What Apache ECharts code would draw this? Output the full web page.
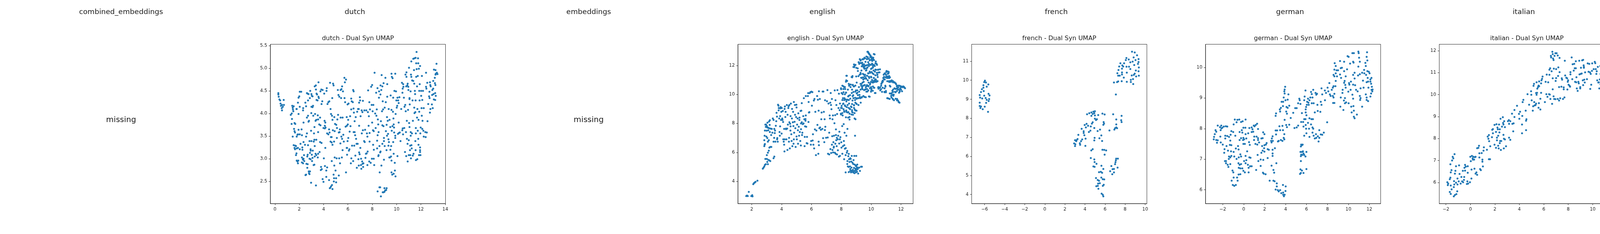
<!DOCTYPE html>
<html lang="en">

<head>
    <meta charset="UTF-8">
    <title>Dual Syn UMAP</title>
    <style>
        * {
            padding: 0;
            margin: 0;
        }

        body {
            background: #fff;
        }
    </style>
</head>

<body>
    <div id="chart" style="width: 7800px; height: 600px;"></div>
    <script src="https://cdn.jsdelivr.net/npm/echarts@6/dist/echarts.min.js"></script>
    <script>
        // panel order, left to right
        const panelNames = ['combined_embeddings', 'dutch', 'embeddings', 'english', 'french', 'german', 'italian',
            'plots', 'portuguese', 'russian', 'spanish', 'svg', 'tables']
        const missingPanels = ['combined_embeddings', 'embeddings', 'plots', 'svg', 'tables']

        // axis ranges and ticks
        const dutchXRange = [-0.38, 14.02], dutchYRange = [2.01, 5.53]
        const dutchXTicks = [0, 2, 4, 6, 8, 10, 12, 14], dutchYTicks = [2.5, 3.0, 3.5, 4.0, 4.5, 5.0, 5.5]
        const englishXRange = [1.07, 12.81], englishYRange = [2.47, 13.46]
        const englishXTicks = [2, 4, 6, 8, 10, 12], englishYTicks = [4, 6, 8, 10, 12]
        const frenchXRange = [-7.29, 10.17], frenchYRange = [3.52, 11.89]
        const frenchXTicks = [-6, -4, -2, 0, 2, 4, 6, 8, 10], frenchYTicks = [4, 5, 6, 7, 8, 9, 10, 11]
        const germanXRange = [-3.65, 13.08], germanYRange = [5.55, 10.76]
        const germanXTicks = [-2, 0, 2, 4, 6, 8, 10, 12], germanYTicks = [6, 7, 8, 9, 10]
        const italianXRange = [-2.55, 11.78], italianYRange = [5.04, 12.29]
        const italianXTicks = [-2, 0, 2, 4, 6, 8, 10], italianYTicks = [6, 7, 8, 9, 10, 11, 12]
        const portugueseXRange = [-4.27, 12.28], portugueseYRange = [4.84, 9.19]
        const portugueseXTicks = [-4, -2, 0, 2, 4, 6, 8, 10, 12], portugueseYTicks = [5.0, 5.5, 6.0, 6.5, 7.0, 7.5, 8.0, 8.5, 9.0]
        const russianXRange = [-3.70, 16.62], russianYRange = [4.19, 8.57]
        const russianXTicks = [-2.5, 0, 2.5, 5, 7.5, 10, 12.5, 15], russianYTicks = [4.5, 5.0, 5.5, 6.0, 6.5, 7.0, 7.5, 8.0, 8.5]
        const spanishXRange = [4.07, 9.97], spanishYRange = [2.58, 15.36]
        const spanishXTicks = [5, 6, 7, 8, 9], spanishYTicks = [4, 6, 8, 10, 12, 14]

        const dutchPts = [
            [0.28, 4.45], [0.28, 4.42], [0.31, 4.37], [0.37, 4.31], [0.43, 4.29], [0.46, 4.22], [0.49, 4.17], [0.58, 4.19], [0.56, 4.12], [0.65, 4.15], [0.58, 4.07], [0.72, 4.30], [0.74, 4.19],
            [1.30, 3.97], [1.38, 4.00], [1.42, 4.17], [1.48, 4.09], [1.51, 4.05], [1.46, 4.13], [1.54, 4.16], [1.40, 3.88], [1.37, 3.77], [1.46, 3.49], [1.57, 3.66], [1.61, 3.79], [1.67, 3.77], [1.61, 3.61], [1.65, 3.58],
            [1.54, 3.30], [1.61, 3.24], [1.67, 3.29], [1.73, 3.28], [1.65, 3.21], [1.79, 3.23], [1.77, 3.12], [1.73, 3.08], [1.79, 2.96], [1.85, 2.94], [1.89, 2.90], [1.92, 2.96], [1.89, 3.24], [1.77, 4.10], [1.79, 4.10],
            [1.89, 4.24], [1.94, 3.99], [1.94, 4.35], [2.00, 4.38], [2.04, 4.48], [2.04, 4.15], [1.94, 3.64], [1.89, 3.54], [1.79, 3.49], [1.85, 3.53], [2.04, 3.54], [2.04, 3.21], [2.10, 3.33], [2.16, 4.48], [2.19, 3.65],
            [2.22, 3.52], [2.25, 3.25], [2.26, 3.20], [2.22, 3.03], [2.22, 2.92], [2.29, 2.99], [2.31, 4.07], [2.32, 4.12], [2.35, 3.80], [2.35, 3.37], [2.35, 3.00], [2.32, 2.98], [2.31, 2.90], [2.39, 3.08], [2.41, 2.95],
            [2.47, 3.31], [2.50, 4.24], [2.51, 2.64], [2.56, 2.65], [2.56, 3.49], [2.56, 4.16], [2.59, 2.89], [2.63, 3.56], [2.63, 3.91], [2.63, 4.45], [2.66, 2.80], [2.66, 3.05], [2.68, 4.44], [2.69, 3.09], [2.69, 2.88],
            [2.72, 4.29], [2.72, 3.95], [2.72, 3.30], [2.76, 4.43], [2.76, 3.82], [2.78, 2.72], [2.80, 2.68], [2.80, 3.84], [2.84, 3.00], [2.84, 3.39], [2.84, 2.66], [2.87, 4.34], [2.88, 3.13], [2.88, 2.72], [2.90, 4.50],
            [2.93, 3.21], [2.93, 2.99], [2.94, 3.18], [2.97, 2.47], [2.97, 3.62], [2.99, 4.01], [3.00, 3.39], [3.00, 4.43], [3.00, 4.15], [3.03, 3.09], [3.03, 4.39], [3.05, 2.95], [3.09, 3.02], [3.09, 4.14], [3.09, 4.38],
            [3.11, 3.18], [3.13, 4.17], [3.15, 3.95], [3.18, 2.86], [3.19, 3.38], [3.21, 3.56], [3.24, 2.87], [3.24, 3.42], [3.25, 3.70], [3.27, 4.60], [3.27, 3.28], [3.27, 3.05], [3.30, 3.99], [3.34, 3.11], [3.34, 3.84],
            [3.36, 4.62], [3.37, 4.53], [3.37, 2.41], [3.40, 3.42], [3.40, 3.08], [3.40, 3.86], [3.42, 4.30], [3.42, 4.44], [3.46, 4.42], [3.50, 4.29], [3.52, 3.96], [3.52, 3.03], [3.55, 3.11], [3.55, 3.59], [3.55, 3.87],
            [3.58, 4.37], [3.58, 4.69], [3.61, 4.34], [3.64, 3.76], [3.67, 3.15], [3.71, 3.91], [3.71, 3.37], [3.74, 4.49], [3.74, 3.74], [3.77, 2.75], [3.79, 2.82], [3.81, 4.53], [3.83, 4.21], [3.83, 3.35], [3.85, 2.77],
            [3.89, 4.27], [3.92, 4.52], [3.92, 2.55], [3.99, 2.49], [3.99, 3.68], [4.02, 3.01], [4.05, 4.44], [4.08, 3.84], [4.10, 3.73], [4.10, 3.67], [4.11, 2.84], [4.14, 3.24], [4.14, 3.80], [4.16, 3.69], [4.22, 2.74],
            [4.22, 2.60], [4.24, 4.50], [4.26, 4.56], [4.29, 2.81], [4.29, 3.56], [4.32, 4.21], [4.39, 4.25], [4.39, 3.54], [4.45, 3.65], [4.45, 2.53], [4.47, 4.27], [4.49, 3.58], [4.51, 2.35], [4.53, 4.68], [4.55, 2.36],
            [4.57, 4.10], [4.57, 3.38], [4.60, 3.48], [4.61, 3.99], [4.61, 2.39], [4.66, 3.36], [4.66, 3.48], [4.67, 2.95], [4.69, 2.42], [4.69, 3.95], [4.71, 4.34], [4.73, 2.33], [4.73, 3.31], [4.73, 3.86], [4.76, 3.63],
            [4.78, 4.66], [4.82, 4.62], [4.82, 2.65], [4.84, 2.50], [4.86, 3.38], [4.86, 2.57], [4.88, 2.85], [4.88, 3.92], [4.91, 3.03], [4.91, 3.61], [4.94, 3.77], [4.98, 2.74], [5.03, 2.48], [5.03, 2.57], [5.04, 3.75],
            [5.07, 3.01], [5.09, 3.46], [5.10, 3.68], [5.13, 3.87], [5.17, 4.52], [5.19, 3.97], [5.22, 4.41], [5.25, 2.63], [5.25, 3.58], [5.28, 3.01], [5.29, 4.37], [5.31, 3.59], [5.34, 3.65], [5.35, 2.90], [5.38, 3.34],
            [5.40, 4.52], [5.40, 3.91], [5.44, 4.34], [5.46, 3.49], [5.47, 4.54], [5.50, 3.03], [5.52, 3.44], [5.52, 4.60], [5.56, 3.19], [5.56, 3.91], [5.59, 4.49], [5.62, 3.53], [5.66, 3.38], [5.71, 4.79], [5.72, 4.34],
            [5.75, 4.69], [5.77, 4.25], [5.81, 3.71], [5.84, 4.75], [5.84, 2.70], [5.90, 3.24], [5.90, 3.92], [5.91, 3.73], [5.93, 3.24], [5.93, 3.09], [5.97, 4.20], [5.97, 3.39], [5.99, 3.76], [6.02, 3.86], [6.03, 3.46],
            [6.05, 4.22], [6.08, 3.18], [6.12, 3.21], [6.14, 3.60], [6.18, 3.94], [6.21, 3.72], [6.24, 2.90], [6.27, 4.09], [6.27, 4.33], [6.28, 3.01], [6.31, 4.27], [6.34, 3.29], [6.40, 4.25], [6.43, 4.52], [6.43, 2.95],
            [6.46, 4.11], [6.47, 4.49], [6.47, 3.59], [6.49, 4.02], [6.52, 3.29], [6.55, 3.83], [6.55, 3.59], [6.59, 3.52], [6.61, 3.07], [6.64, 3.92], [6.67, 3.44], [6.71, 3.33], [6.73, 2.80], [6.76, 4.04], [6.80, 3.33],
            [6.83, 4.10], [6.86, 2.99], [6.89, 2.85], [6.89, 4.10], [6.92, 3.73], [6.92, 4.24], [6.92, 3.14], [6.96, 3.10], [6.98, 4.36], [7.00, 4.29], [7.02, 3.24], [7.04, 3.94], [7.07, 2.86], [7.08, 3.00], [7.10, 2.78],
            [7.13, 4.07], [7.14, 3.56], [7.17, 2.94], [7.19, 4.03], [7.20, 2.89], [7.23, 4.28], [7.23, 3.63], [7.25, 2.82], [7.27, 2.90], [7.33, 3.39], [7.35, 4.07], [7.38, 3.37], [7.41, 3.64], [7.44, 3.02], [7.48, 3.11],
            [7.51, 4.07], [7.54, 3.12], [7.56, 3.56], [7.60, 2.86], [7.60, 3.49], [7.62, 3.16], [7.64, 4.03], [7.66, 4.51], [7.70, 3.73], [7.72, 3.94], [7.75, 2.94], [7.76, 4.25], [7.78, 3.57], [7.78, 3.38], [7.81, 4.09],
            [7.87, 2.91], [7.91, 4.59], [7.95, 4.19], [7.97, 3.00], [7.99, 4.63], [7.99, 3.80], [8.03, 4.05], [8.06, 3.63], [8.07, 3.31], [8.09, 4.19], [8.12, 3.00], [8.12, 3.61], [8.13, 3.20], [8.16, 2.86], [8.19, 4.90],
            [8.24, 4.00], [8.28, 3.68], [8.32, 4.46], [8.34, 3.95], [8.37, 4.09], [8.40, 3.40], [8.40, 3.23], [8.43, 4.56], [8.44, 3.52], [8.44, 2.28], [8.46, 3.87], [8.49, 3.76], [8.50, 3.06], [8.52, 3.59], [8.52, 3.08],
            [8.55, 4.35], [8.56, 4.49], [8.59, 3.28], [8.59, 2.37], [8.61, 2.70], [8.65, 3.14], [8.65, 2.37], [8.67, 4.42], [8.68, 4.62], [8.68, 3.16], [8.71, 2.17], [8.71, 3.83], [8.74, 4.52], [8.75, 2.85], [8.77, 4.85],
            [8.80, 4.05], [8.83, 3.74], [8.83, 4.60], [8.83, 3.33], [8.86, 4.27], [8.86, 2.26], [8.89, 4.09], [8.92, 3.72], [8.93, 4.67], [8.93, 2.26], [8.96, 3.46], [8.96, 3.39], [8.96, 2.98], [9.00, 2.27], [9.00, 2.35],
            [9.02, 4.13], [9.02, 3.28], [9.06, 2.30], [9.08, 4.79], [9.11, 4.25], [9.12, 3.61], [9.14, 2.31], [9.17, 3.19], [9.18, 2.35], [9.18, 3.75], [9.21, 3.92], [9.21, 3.51], [9.23, 4.65], [9.23, 4.37], [9.27, 3.84],
            [9.30, 3.55], [9.33, 3.43], [9.33, 3.29], [9.35, 4.10], [9.37, 3.37], [9.40, 3.03], [9.42, 3.86], [9.45, 3.03], [9.48, 3.70], [9.49, 3.20], [9.51, 4.40], [9.54, 3.05], [9.55, 3.28], [9.58, 4.88], [9.58, 4.08],
            [9.58, 2.96], [9.58, 2.70], [9.60, 3.62], [9.61, 4.81], [9.64, 2.65], [9.66, 3.72], [9.67, 4.78], [9.70, 4.04], [9.72, 4.35], [9.72, 3.37], [9.74, 3.89], [9.76, 3.76], [9.76, 3.11], [9.76, 2.67], [9.79, 3.69],
            [9.80, 3.58], [9.82, 4.50], [9.85, 2.91], [9.86, 2.74], [9.89, 4.88], [9.89, 3.51], [9.89, 3.46], [9.91, 2.61], [9.92, 3.99], [9.95, 4.49], [9.98, 4.29], [10.01, 4.13], [10.05, 4.17], [10.07, 3.06], [10.07, 4.35],
            [10.11, 3.55], [10.13, 4.29], [10.17, 3.80], [10.17, 4.23], [10.19, 3.57], [10.23, 4.36], [10.26, 3.58], [10.32, 3.39], [10.38, 4.10], [10.44, 4.68], [10.47, 3.63], [10.48, 4.46], [10.50, 4.55], [10.50, 3.67],
            [10.53, 3.54], [10.54, 4.65], [10.56, 4.59], [10.60, 4.35], [10.63, 3.68], [10.65, 4.15], [10.69, 3.15], [10.71, 4.19], [10.73, 4.86], [10.75, 4.05], [10.77, 3.59], [10.79, 3.06], [10.79, 4.60], [10.81, 4.91],
            [10.81, 4.81], [10.84, 3.84], [10.85, 3.44], [10.88, 4.62], [10.90, 3.33], [10.91, 4.66], [10.91, 2.94], [10.94, 4.08], [10.96, 4.59], [10.97, 4.52], [11.00, 3.41], [11.00, 3.08], [11.02, 5.01], [11.03, 3.79],
            [11.06, 3.70], [11.06, 4.32], [11.06, 4.34], [11.08, 4.20], [11.10, 3.19], [11.12, 3.29], [11.12, 3.08], [11.15, 4.49], [11.16, 3.51], [11.16, 3.59], [11.18, 4.86], [11.18, 3.01], [11.21, 5.15], [11.21, 4.81],
            [11.22, 3.30], [11.24, 3.23], [11.26, 3.56], [11.28, 4.73], [11.31, 4.29], [11.33, 3.07], [11.34, 3.84], [11.37, 5.21], [11.37, 4.72], [11.39, 3.11], [11.43, 4.96], [11.45, 4.66], [11.45, 4.13], [11.47, 4.01],
            [11.47, 5.22], [11.50, 4.50], [11.52, 4.43], [11.54, 3.39], [11.54, 4.03], [11.56, 5.23], [11.56, 4.29], [11.56, 3.19], [11.58, 3.68], [11.58, 3.56], [11.59, 2.97], [11.61, 5.11], [11.61, 4.81], [11.64, 5.36],
            [11.65, 4.98], [11.68, 3.91], [11.68, 4.60], [11.70, 2.99], [11.71, 4.10], [11.74, 3.62], [11.74, 4.83], [11.76, 5.22], [11.78, 3.44], [11.78, 5.11], [11.80, 3.31], [11.80, 3.86], [11.83, 4.99], [11.84, 3.08],
            [11.86, 4.04], [11.86, 4.50], [11.89, 4.29], [11.90, 4.65], [11.93, 5.05], [11.93, 3.25], [11.93, 3.19], [11.93, 3.15], [11.95, 3.56], [11.96, 3.08], [11.98, 3.69], [12.02, 4.39], [12.02, 4.50], [12.05, 4.12],
            [12.07, 3.95], [12.08, 4.83], [12.11, 3.66], [12.11, 4.30], [12.13, 3.84], [12.17, 4.50], [12.20, 3.62], [12.23, 4.12], [12.23, 3.49], [12.36, 3.59], [12.39, 3.48], [12.42, 4.90], [12.42, 4.59], [12.45, 4.55],
            [12.48, 3.58], [12.52, 4.68], [12.54, 3.83], [12.60, 4.21], [12.67, 4.38], [12.70, 4.48], [12.71, 4.34], [12.74, 4.02], [12.74, 4.69], [12.77, 4.63], [12.78, 4.10], [12.80, 4.60], [12.90, 4.20], [12.92, 4.41],
            [12.94, 4.52], [12.97, 4.12], [13.01, 4.55], [13.01, 4.72], [13.03, 4.43], [13.06, 4.31], [13.07, 4.97], [13.14, 4.79], [13.15, 4.67], [13.17, 4.45], [13.17, 4.30], [13.19, 4.63], [13.20, 4.96], [13.20, 4.86],
            [13.22, 4.39], [13.22, 4.88], [13.28, 5.10], [13.31, 4.90], [13.36, 4.87]
        ]

        const englishPts = [
            [1.63, 2.99], [1.68, 3.02], [1.73, 2.99], [1.80, 3.28], [1.97, 2.99], [2.03, 3.05], [2.05, 2.97], [2.10, 3.81], [2.15, 3.88], [2.20, 3.92], [2.25, 3.97], [2.38, 4.05],
            [2.74, 4.88], [2.79, 4.95], [2.84, 5.03], [2.88, 5.14], [2.91, 5.55], [2.94, 5.19], [3.01, 5.55], [3.04, 5.34], [3.08, 5.19], [3.11, 5.48], [3.18, 5.45], [3.24, 5.40], [3.46, 5.60], [3.51, 5.71],
            [3.01, 5.81], [3.08, 5.98], [3.14, 6.12], [3.18, 6.33], [3.24, 6.38], [3.31, 6.38], [2.84, 6.43], [2.86, 6.53], [2.88, 6.58], [2.84, 6.84], [2.86, 7.15], [2.88, 7.51], [2.91, 7.92], [2.96, 7.92],
            [2.94, 7.76], [3.01, 7.82], [3.04, 7.72], [2.98, 7.09], [3.04, 6.99], [3.08, 6.74], [3.14, 6.84], [3.11, 7.53], [3.16, 8.13], [3.21, 8.22], [3.16, 7.67], [3.21, 7.41], [3.26, 7.64], [3.34, 7.62],
            [3.38, 7.36], [3.41, 8.34], [3.46, 8.24], [3.46, 6.74], [3.51, 7.62], [3.54, 7.33], [3.56, 7.51], [3.58, 6.74], [3.61, 7.84], [3.64, 8.15], [3.66, 8.73], [3.69, 8.47], [3.71, 6.99], [3.74, 6.74],
            [3.76, 9.29], [3.79, 9.22], [3.81, 9.06], [3.84, 8.34], [3.86, 7.41], [3.88, 7.15], [3.91, 9.04], [3.94, 9.12], [3.96, 8.24], [3.98, 8.80], [4.01, 9.06], [4.04, 8.34], [4.06, 8.24], [4.08, 8.86],
            [4.11, 6.90], [4.14, 6.74], [4.17, 7.62], [4.17, 6.53], [4.19, 6.07], [4.22, 9.17], [4.25, 8.44], [4.27, 8.80], [4.29, 7.64], [4.32, 6.90], [4.35, 9.27], [4.37, 7.64], [4.39, 6.17], [4.42, 7.92],
            [4.45, 9.06], [4.47, 9.19], [4.49, 6.74], [4.52, 8.08], [4.52, 9.27], [4.55, 6.28], [4.57, 7.98], [4.59, 7.51], [4.62, 9.37], [4.65, 7.25], [4.67, 6.79], [4.69, 8.34], [4.72, 6.43], [4.75, 8.08],
            [4.77, 8.80], [4.79, 7.82], [4.82, 9.48], [4.82, 6.90], [4.84, 7.36], [4.87, 8.11], [4.89, 9.27], [4.92, 7.67], [4.94, 6.38], [4.97, 8.44], [4.99, 9.29], [5.02, 6.90], [5.04, 7.92], [5.07, 8.34],
            [5.09, 7.53], [5.12, 8.70], [5.15, 7.77], [5.17, 7.15], [5.19, 8.24], [5.22, 7.41], [5.25, 6.79], [5.27, 8.86], [5.29, 6.48], [5.32, 8.88], [5.35, 9.40], [5.35, 8.08], [5.37, 7.20], [5.39, 7.36],
            [5.42, 7.95], [5.45, 8.50], [5.47, 8.00], [5.49, 9.74], [5.52, 8.29], [5.54, 6.43], [5.55, 7.07], [5.57, 7.80], [5.60, 8.19], [5.62, 8.55], [5.62, 9.89], [5.65, 7.77], [5.68, 6.64], [5.70, 7.07],
            [5.73, 6.61], [5.76, 9.89], [5.78, 10.09], [5.81, 9.48], [5.83, 8.75], [5.86, 8.78], [5.88, 10.09], [5.93, 10.16], [5.96, 6.53], [5.98, 6.79], [6.00, 10.19], [6.03, 9.22], [6.06, 10.16], [6.08, 6.82],
            [6.10, 7.25], [6.13, 6.53], [6.16, 9.58], [6.18, 6.28], [6.20, 9.69], [6.23, 7.59], [6.26, 8.80], [6.30, 5.81], [6.33, 7.51], [6.38, 9.89], [6.40, 7.90], [6.43, 9.63], [6.46, 5.91], [6.48, 8.88],
            [6.48, 6.74], [6.50, 10.22], [6.50, 6.50], [6.53, 7.67], [6.56, 9.69], [6.58, 7.72], [6.63, 7.56], [6.66, 8.29], [6.68, 8.75], [6.73, 7.62], [6.75, 10.20], [6.78, 6.98], [6.80, 10.20], [6.83, 8.80],
            [6.86, 6.71], [6.88, 8.29], [6.90, 7.54], [6.91, 9.60], [6.93, 7.77], [6.98, 7.01], [7.04, 9.53], [7.07, 10.30], [7.09, 7.03], [7.11, 5.91], [7.14, 9.37], [7.19, 7.36], [7.19, 5.86], [7.22, 8.55],
            [7.24, 8.34], [7.26, 9.43], [7.27, 6.23], [7.29, 10.10], [7.31, 9.27], [7.32, 5.96], [7.34, 8.98], [7.37, 9.69], [7.37, 6.53], [7.39, 7.12], [7.41, 8.29], [7.41, 6.17], [7.44, 8.55], [7.47, 6.71],
            [7.49, 6.33], [7.51, 7.15], [7.54, 8.01], [7.56, 10.28], [7.57, 5.98], [7.59, 8.57], [7.61, 9.60], [7.62, 5.91], [7.64, 7.20], [7.64, 7.59], [7.66, 6.84], [7.67, 9.27], [7.69, 6.43], [7.71, 5.86],
            [7.72, 8.65], [7.74, 10.30], [7.76, 6.90], [7.77, 6.15], [7.79, 7.15], [7.81, 9.06], [7.84, 5.71], [7.84, 10.05], [7.86, 6.61], [7.87, 7.43], [7.89, 8.91], [7.91, 9.37], [7.91, 5.76], [7.94, 7.05],
            [7.97, 8.67], [7.99, 10.36], [8.01, 6.33], [8.04, 9.06], [8.06, 7.82], [8.07, 5.91], [8.09, 8.55], [8.09, 10.02], [8.11, 6.43], [8.14, 9.37], [8.14, 10.56], [8.16, 7.95], [8.17, 6.79], [8.19, 5.53],
            [8.19, 8.86], [8.21, 9.74], [8.22, 7.36], [8.24, 10.51], [8.24, 6.26], [8.27, 9.19], [8.29, 5.81], [8.29, 4.62], [8.31, 8.42], [8.32, 10.12], [8.34, 8.80], [8.34, 7.15], [8.37, 11.29], [8.37, 5.98],
            [8.39, 10.93], [8.39, 9.63], [8.41, 5.40], [8.41, 7.62], [8.42, 9.27], [8.44, 10.33], [8.44, 5.03], [8.47, 5.74], [8.47, 8.78], [8.50, 4.64], [8.50, 9.91], [8.52, 9.37], [8.52, 5.53], [8.55, 10.66],
            [8.55, 5.34], [8.55, 8.44], [8.57, 9.01], [8.58, 5.03], [8.60, 4.72], [8.60, 9.71], [8.62, 10.51], [8.63, 5.55], [8.65, 9.17], [8.65, 4.62], [8.67, 5.37], [8.68, 4.95], [8.70, 5.76], [8.70, 10.10],
            [8.72, 8.80], [8.73, 11.18], [8.73, 4.67], [8.75, 5.29], [8.75, 9.58], [8.77, 10.66], [8.78, 4.80], [8.78, 8.60], [8.80, 4.62], [8.80, 9.94], [8.82, 5.47], [8.83, 10.56], [8.85, 4.93], [8.85, 9.27],
            [8.87, 5.76], [8.87, 11.88], [8.88, 4.57], [8.90, 8.96], [8.90, 5.16], [8.92, 4.72], [8.92, 7.15], [8.93, 9.77], [8.95, 4.88], [8.95, 12.04], [8.95, 8.29], [8.97, 5.06], [8.98, 4.62], [8.98, 10.28],
            [9.00, 5.76], [9.00, 9.37], [9.00, 11.24], [9.02, 8.88], [9.02, 4.80], [9.05, 4.98], [9.05, 4.67], [9.05, 9.74], [9.07, 5.16], [9.08, 10.12], [9.10, 4.85], [9.10, 11.80], [9.12, 4.93], [9.13, 4.54],
            [9.15, 9.27], [9.15, 11.26], [9.18, 10.51], [9.20, 4.95], [9.20, 12.11], [9.22, 9.97], [9.23, 11.36], [9.25, 4.72], [9.28, 9.74], [9.28, 12.17], [9.30, 12.37], [9.30, 9.43], [9.32, 5.01], [9.33, 11.15],
            [9.35, 10.72], [9.35, 11.65], [9.38, 5.01], [9.38, 9.82], [9.40, 12.19], [9.40, 10.51], [9.42, 10.36], [9.43, 11.96], [9.45, 12.42], [9.45, 11.42], [9.47, 11.03], [9.48, 9.89], [9.50, 11.88], [9.50, 10.87],
            [9.52, 12.08], [9.53, 10.30], [9.55, 12.53], [9.55, 11.77], [9.58, 11.24], [9.58, 10.64], [9.60, 11.98], [9.62, 12.25], [9.63, 10.36], [9.65, 11.65], [9.67, 11.08], [9.68, 12.01], [9.70, 11.80], [9.70, 10.56],
            [9.72, 12.45], [9.73, 11.29], [9.75, 10.20], [9.75, 11.86], [9.77, 10.98], [9.79, 12.94], [9.80, 12.22], [9.80, 11.46], [9.82, 12.87], [9.83, 10.56], [9.85, 11.96], [9.87, 11.13], [9.88, 12.78], [9.90, 9.84],
            [9.90, 12.35], [9.93, 11.49], [9.94, 10.77], [9.96, 12.68], [9.98, 12.04], [9.99, 10.51], [10.01, 10.30], [10.01, 11.18], [10.03, 12.58], [10.04, 11.80], [10.06, 12.42], [10.08, 10.84], [10.09, 11.46],
            [10.11, 12.06], [10.11, 10.25], [10.13, 10.92], [10.14, 12.53], [10.16, 11.65], [10.18, 11.13], [10.19, 12.37], [10.21, 10.46], [10.23, 12.76], [10.24, 11.96], [10.26, 10.87], [10.28, 11.32], [10.29, 10.10],
            [10.31, 12.27], [10.31, 11.03], [10.33, 11.70], [10.36, 12.11], [10.36, 10.87], [10.39, 12.04], [10.41, 11.34], [10.43, 10.92], [10.46, 11.70], [10.49, 10.51], [10.53, 10.41], [10.56, 11.52], [10.59, 11.73],
            [10.61, 10.28], [10.66, 10.36], [10.69, 10.74], [10.73, 10.18], [10.76, 10.84], [10.79, 10.92], [10.81, 11.13], [10.84, 11.36], [10.86, 11.21], [10.89, 10.18], [10.91, 11.03], [10.93, 11.44], [10.96, 10.54],
            [10.99, 10.15], [11.01, 11.54], [11.03, 11.24], [11.06, 11.13], [11.09, 9.74], [11.11, 11.42], [11.13, 11.57], [11.16, 11.24], [11.18, 11.54], [11.19, 10.92], [11.21, 11.13], [11.24, 9.69], [11.26, 11.18],
            [11.29, 10.54], [11.32, 10.87], [11.34, 10.05], [11.36, 9.79], [11.39, 10.92], [11.42, 10.25], [11.44, 9.71], [11.46, 10.84], [11.49, 9.91], [11.51, 9.99], [11.53, 9.60], [11.57, 10.84], [11.60, 10.18],
            [11.62, 10.38], [11.67, 10.71], [11.72, 10.56], [11.74, 9.69], [11.77, 10.36], [11.80, 9.58], [11.82, 10.49], [11.84, 9.50], [11.87, 10.12], [11.90, 9.43], [11.92, 10.20], [11.94, 10.38], [11.97, 10.56],
            [12.00, 10.33], [12.04, 10.54], [12.07, 10.22], [12.12, 10.54], [12.17, 10.51], [12.22, 10.49], [12.27, 10.43],
            // extra points read from a closer look at the head and right ear
            [9.75, 12.94], [9.81, 12.88], [9.85, 12.82], [9.90, 12.74], [10.18, 12.79], [9.68, 12.61], [9.77, 12.57], [9.94, 12.58], [10.03, 12.52], [10.12, 12.48], [10.16, 12.39], [10.07, 12.31], [9.99, 12.39],
            [9.85, 12.46], [9.72, 12.43], [9.59, 12.49], [9.51, 12.46], [9.42, 12.43], [9.24, 12.43], [9.29, 12.34], [9.16, 12.22], [9.20, 12.16], [9.33, 12.16], [9.42, 12.07], [9.46, 11.98], [9.55, 11.94], [9.37, 11.94],
            [9.51, 11.85], [9.59, 11.80], [9.68, 11.67], [9.77, 12.03], [9.85, 12.10], [9.94, 12.05], [10.06, 12.12], [10.12, 11.96], [10.20, 12.03], [10.29, 12.14], [10.35, 12.12], [10.12, 11.85], [9.99, 11.76],
            [9.90, 11.58], [10.03, 11.54], [10.16, 11.40], [10.29, 11.71], [10.25, 11.58], [10.38, 11.49], [10.47, 11.71], [10.49, 11.51], [8.85, 12.07], [8.89, 11.98], [8.81, 11.89], [9.01, 11.83], [9.11, 11.62],
            [9.29, 11.49], [9.30, 11.40], [9.51, 11.36], [9.59, 11.36], [9.46, 11.18], [9.37, 11.13], [9.55, 11.09], [9.64, 11.13], [9.72, 11.29], [9.81, 11.45], [9.85, 11.22], [9.99, 11.22], [10.06, 11.00], [10.18, 11.13],
            [10.23, 10.97], [10.29, 11.04], [10.33, 10.95], [10.42, 11.36], [10.44, 11.20], [10.20, 10.86], [10.12, 10.82], [9.99, 10.88], [9.83, 10.82], [9.72, 10.64], [9.79, 10.60], [9.92, 10.68], [10.12, 10.55],
            [10.18, 10.46], [10.03, 10.40], [9.92, 10.43], [9.81, 10.28], [9.72, 10.37], [9.64, 10.50], [9.59, 10.33], [9.68, 10.19], [9.55, 10.64], [9.46, 10.60], [9.42, 10.82], [9.29, 10.73], [9.33, 10.60], [9.39, 10.42],
            [9.29, 10.33], [9.20, 10.19], [9.07, 10.28], [9.03, 10.82], [8.75, 11.27], [8.69, 11.20], [8.34, 11.29], [8.33, 10.97], [8.31, 10.88], [8.50, 10.73], [8.52, 10.60], [8.63, 10.68], [8.76, 10.64], [8.85, 10.55],
            [8.94, 10.61], [8.72, 10.33], [8.81, 10.17], [8.94, 10.19], [9.03, 10.07], [9.11, 9.95], [9.24, 9.83], [9.16, 9.74], [9.03, 9.70], [8.92, 9.61], [8.81, 9.74], [8.76, 9.88], [8.59, 9.95], [8.46, 9.86],
            [8.50, 9.61], [8.41, 9.63], [8.34, 9.52], [8.28, 9.65], [8.20, 9.61], [8.07, 9.61], [8.11, 9.74], [8.24, 10.01], [8.31, 10.13], [8.15, 10.15], [8.02, 10.10], [8.07, 10.60], [7.98, 10.43], [8.20, 10.50],
            [8.26, 10.37], [8.14, 10.37], [9.37, 9.79], [9.55, 9.83], [9.64, 9.81], [9.85, 9.86], [10.25, 10.10], [9.99, 10.19], [8.94, 9.43], [9.03, 9.34], [8.85, 9.25], [8.72, 9.34], [8.68, 9.12], [8.59, 8.98],
            [8.50, 9.07], [8.37, 9.12], [8.24, 9.25], [8.11, 9.34], [8.02, 9.21], [7.98, 9.07], [8.15, 8.98], [8.33, 8.89], [8.41, 8.76], [8.55, 8.67], [8.68, 8.62], [8.76, 8.76], [8.89, 8.71], [8.94, 8.89], [8.85, 9.07],
            [8.20, 8.80], [8.07, 8.71], [7.98, 8.62], [8.46, 8.40], [8.55, 8.27], [8.89, 8.34], [8.72, 8.91],
            [11.03, 11.62], [11.12, 11.58], [10.90, 11.45], [10.99, 11.36], [11.08, 11.24], [11.14, 11.13], [11.21, 11.27], [11.16, 11.45], [10.95, 11.18], [10.86, 11.04], [10.77, 10.95], [10.73, 10.86], [10.68, 10.73],
            [10.67, 10.60], [10.77, 10.46], [10.60, 10.49], [10.47, 10.49], [10.49, 10.40], [10.90, 10.42], [10.99, 10.24], [10.90, 10.15], [10.95, 10.60], [11.08, 10.91], [11.21, 10.86], [11.29, 10.93], [11.38, 10.97],
            [11.47, 10.91], [11.56, 10.82], [11.64, 10.77], [11.73, 10.60], [11.82, 10.61], [11.91, 10.60], [11.99, 10.50], [12.08, 10.50], [12.17, 10.55], [12.21, 10.49], [11.77, 10.46], [11.69, 10.40], [11.86, 10.33],
            [11.95, 10.40], [11.73, 10.24], [11.91, 10.24], [11.64, 10.15], [11.47, 10.17], [11.38, 10.10], [11.43, 9.97], [11.34, 9.90], [11.25, 10.07], [11.08, 9.74], [11.16, 9.72], [11.47, 9.65], [11.64, 9.70],
            [11.73, 9.59], [11.84, 9.47], [11.25, 10.60], [11.47, 10.33], [11.56, 10.42],
            // extra points in the dense body and front leg
            [3.00, 7.50], [3.10, 7.70], [3.20, 7.90], [3.05, 8.05], [3.30, 7.20], [3.50, 7.00], [3.70, 6.90], [4.00, 7.30], [4.30, 7.60], [4.60, 8.50], [4.90, 8.60], [5.20, 8.40], [4.70, 9.00], [5.00, 9.10],
            [4.40, 8.60], [4.10, 8.10], [3.90, 8.50], [3.80, 8.90], [4.20, 9.00], [4.60, 7.80], [5.00, 7.10], [5.30, 7.60], [5.60, 8.30], [5.80, 8.10], [5.30, 8.00], [4.50, 7.00], [4.80, 6.60], [5.10, 6.60],
            [4.20, 6.90], [3.90, 7.80], [8.40, 5.20], [8.50, 5.00], [8.60, 4.85], [8.70, 4.75], [8.85, 4.70], [8.95, 4.80], [9.05, 4.90], [9.00, 5.10], [8.80, 5.20], [8.60, 5.60], [8.50, 5.90], [8.40, 6.10],
            [8.30, 6.30], [8.20, 6.50], [8.00, 6.70], [7.90, 6.90], [7.70, 7.00], [7.60, 6.60], [7.50, 6.40], [7.45, 6.00]
        ]

        const frenchPts = [
            [-5.97, 9.98], [-6.04, 9.90], [-5.87, 9.88], [-6.12, 9.74], [-5.63, 9.78], [-5.79, 9.66], [-6.12, 9.61], [-6.27, 9.53], [-6.09, 9.43], [-6.36, 9.38], [-5.61, 9.29], [-5.51, 9.20], [-6.49, 9.22], [-6.04, 9.19],
            [-6.45, 9.09], [-6.24, 9.04], [-5.90, 9.07], [-5.55, 9.01], [-5.79, 8.97], [-5.60, 8.91], [-6.49, 8.82], [-5.85, 8.81], [-6.49, 8.65], [-6.36, 8.62], [-6.42, 8.54], [-5.99, 8.61], [-6.19, 8.48], [-5.66, 8.34],
            [8.69, 11.50], [8.96, 11.46], [9.19, 11.31], [8.85, 11.20], [8.13, 11.17], [8.36, 11.09], [8.07, 11.06], [9.34, 11.11], [9.04, 11.06], [8.75, 10.98], [8.52, 10.94], [9.34, 10.96], [7.53, 10.89], [7.90, 10.89],
            [8.91, 10.80], [9.28, 10.86], [7.72, 10.78], [7.41, 10.72], [7.81, 10.72], [8.14, 10.71], [8.39, 10.71], [9.37, 10.67], [7.69, 10.61], [8.52, 10.59], [7.34, 10.54], [9.07, 10.51], [9.34, 10.47], [7.23, 10.37],
            [7.69, 10.41], [8.17, 10.40], [8.96, 10.35], [7.31, 10.24], [7.46, 10.24], [7.69, 10.30], [7.87, 10.14], [8.66, 10.25], [8.87, 10.28], [9.10, 10.20], [9.37, 10.24], [8.79, 10.06], [8.57, 10.02], [7.31, 9.94],
            [7.66, 9.95], [8.17, 9.92], [8.57, 9.91], [6.89, 9.88], [7.20, 9.90], [8.81, 9.80], [7.08, 9.25],
            [4.21, 8.21], [4.43, 8.27], [4.64, 8.31], [4.84, 8.35], [4.99, 8.37], [4.77, 8.23], [4.93, 8.27], [4.64, 8.13], [4.99, 8.15], [5.32, 8.17], [5.74, 8.25], [5.96, 8.20], [6.81, 8.21], [7.65, 8.13], [4.99, 7.98],
            [5.19, 7.95], [5.10, 7.91], [7.12, 7.94], [5.86, 7.80], [5.90, 7.72], [7.61, 7.90], [7.65, 7.80], [4.77, 7.79], [4.69, 7.72], [5.83, 7.66], [7.12, 7.68], [4.16, 7.71], [3.97, 7.65], [4.31, 7.61], [4.58, 7.57],
            [4.09, 7.52], [4.93, 7.49], [7.12, 7.52], [7.00, 7.48], [7.20, 7.48], [3.67, 7.45], [5.50, 7.41], [6.93, 7.41], [6.44, 7.36], [5.26, 7.33], [3.87, 7.32], [4.54, 7.35], [4.39, 7.28], [3.87, 7.23], [3.34, 7.13],
            [3.94, 7.11], [5.63, 7.10], [4.06, 6.93], [4.96, 6.97], [5.44, 6.95], [3.26, 6.91], [3.01, 6.85], [3.16, 6.85], [3.72, 6.89], [4.93, 6.84], [5.71, 6.81], [3.13, 6.80], [3.61, 6.80], [3.49, 6.69], [2.92, 6.68],
            [3.52, 6.61], [3.04, 6.64], [4.04, 6.55], [3.01, 6.54], [4.77, 6.38], [4.63, 6.31], [5.74, 6.35], [5.92, 6.34], [6.11, 6.31], [5.96, 6.09], [4.58, 5.91], [4.93, 5.84], [7.11, 5.88], [7.28, 5.88], [7.08, 5.79],
            [7.04, 5.69], [4.96, 5.70], [7.00, 5.59], [5.15, 5.61], [6.63, 5.49], [5.64, 5.51], [4.84, 5.47], [4.96, 5.45], [7.25, 5.41], [5.83, 5.34], [6.89, 5.34], [6.75, 5.33], [6.51, 5.22], [5.40, 5.17], [5.58, 5.19],
            [5.71, 5.14], [6.89, 5.16], [6.72, 5.06], [5.10, 4.86], [5.63, 4.89], [5.27, 4.76], [5.40, 4.72], [5.77, 4.80], [5.92, 4.79], [5.48, 4.59], [5.31, 4.57], [5.13, 4.43], [5.28, 4.45], [5.78, 4.45], [5.87, 4.51],
            [5.34, 4.30], [5.66, 4.04], [5.78, 3.98], [5.83, 3.90]
        ]

        const germanPts = [
            [-2.83, 7.73], [-2.86, 7.65], [-2.76, 7.82], [-2.69, 7.95], [-2.62, 7.90], [-2.48, 8.10], [-2.26, 8.05], [-2.14, 8.10], [-2.04, 8.03], [-1.90, 8.07], [-1.71, 8.08], [-1.57, 8.07], [-2.20, 7.95], [-2.12, 8.01],
            [-2.62, 7.63], [-2.48, 7.62], [-2.55, 7.54], [-2.23, 7.74], [-2.19, 7.55], [-1.76, 7.77], [-1.57, 7.76], [-1.76, 7.68], [-1.40, 7.73], [-2.00, 7.48], [-1.64, 7.43], [-1.83, 7.33], [-1.86, 7.21], [-1.50, 7.28],
            [-1.32, 7.47], [-1.18, 7.46], [-1.25, 7.80], [-1.18, 7.92], [-1.00, 7.89], [-1.28, 7.61], [-1.21, 7.26], [-1.40, 7.09], [-1.28, 7.06], [-1.42, 7.01], [-1.79, 6.94], [-1.69, 6.87], [-1.53, 6.82], [-1.46, 6.75],
            [-1.69, 6.94], [-1.28, 6.84], [-1.18, 7.11], [-1.07, 6.63], [-0.99, 6.57], [-0.96, 6.40], [-1.15, 6.30], [-1.04, 6.16], [-0.90, 6.13], [-0.75, 6.16], [-0.63, 6.40], [-0.58, 6.30], [-0.49, 6.50], [-0.32, 6.51],
            [-0.96, 7.24], [-0.90, 7.09], [-0.75, 7.35], [-0.49, 7.32], [-0.54, 7.43], [-0.68, 7.01], [-0.47, 7.06], [-0.32, 7.16], [-0.25, 7.09], [-0.50, 6.87], [-0.39, 6.82], [-0.25, 6.84], [-0.47, 6.72], [-0.32, 6.70],
            [-0.13, 6.70], [-0.03, 6.62], [0.11, 6.57], [0.04, 6.94], [0.18, 7.11], [0.25, 6.97], [0.18, 6.87], [0.40, 6.82], [0.33, 7.26], [0.54, 7.06], [0.47, 6.72], [0.61, 6.77], [0.76, 6.77], [0.65, 7.05], [0.47, 6.57],
            [-0.96, 8.14], [-0.85, 8.30], [-0.60, 8.29], [-0.68, 8.21], [-0.42, 8.30], [-0.25, 8.22], [-0.10, 8.24], [0.18, 8.30], [-0.80, 7.77], [-0.39, 7.89], [-0.39, 7.63], [-0.25, 7.69], [-0.13, 7.87], [-0.18, 7.95],
            [-0.03, 8.03], [0.16, 8.03], [-0.03, 7.70], [-0.06, 7.63], [0.04, 7.65], [0.18, 7.82], [0.25, 7.68], [0.11, 7.50], [-0.03, 7.50], [0.43, 7.85], [0.54, 8.02], [0.51, 7.56], [0.58, 7.47], [0.76, 7.89], [0.76, 8.04],
            [0.84, 7.98], [0.91, 7.90], [0.96, 8.10], [1.04, 8.08], [1.15, 8.12], [1.28, 8.16], [1.37, 7.99], [1.01, 7.74], [0.99, 7.63], [1.23, 7.74], [1.37, 7.69], [1.37, 7.63], [1.12, 7.50], [1.30, 7.48], [1.47, 7.55],
            [1.19, 6.65], [1.33, 7.14], [1.40, 6.94],
            [1.62, 6.99], [1.62, 6.78], [1.69, 7.21], [1.81, 7.28], [1.81, 7.69], [1.69, 7.68], [1.76, 7.43], [1.86, 7.88], [1.98, 7.82], [1.95, 7.36], [1.98, 7.25], [1.87, 6.98], [1.84, 6.56], [1.91, 6.53], [2.09, 6.51],
            [1.98, 7.46], [2.12, 7.48], [2.19, 7.53], [2.29, 7.33], [2.40, 7.31], [2.29, 7.04], [2.48, 6.30], [2.62, 7.60], [2.69, 7.68], [2.76, 7.75], [2.66, 7.55], [2.78, 7.60], [2.76, 7.31], [2.76, 7.19], [2.76, 7.11],
            [2.66, 6.79], [2.84, 6.65], [2.91, 6.56], [2.84, 6.30], [2.95, 6.28], [2.98, 7.36], [3.05, 7.94], [3.05, 8.42], [3.09, 8.50], [3.09, 7.81], [3.12, 6.87], [3.16, 6.21], [3.16, 6.11], [3.05, 6.01], [3.26, 5.99],
            [3.34, 5.95], [3.48, 5.99], [3.59, 5.89], [3.77, 5.91], [3.77, 5.84], [3.84, 5.79], [3.91, 5.84], [3.75, 6.16], [4.01, 6.11], [3.99, 5.96], [3.19, 7.94], [3.27, 7.58], [3.34, 7.60], [3.41, 8.08], [3.48, 7.95],
            [3.55, 7.63], [3.70, 8.09], [3.70, 7.60], [3.75, 7.95], [3.82, 7.70], [3.88, 7.82], [3.88, 7.65], [3.45, 8.63], [3.48, 8.56], [3.55, 8.68], [3.62, 8.88], [3.75, 8.74], [3.77, 8.88], [3.82, 9.02], [3.88, 9.22],
            [3.91, 9.28], [3.96, 9.37], [3.91, 9.15], [3.99, 8.93], [4.06, 8.56], [4.09, 8.71], [4.13, 8.49], [4.20, 8.95], [4.20, 8.68], [4.27, 9.12], [4.35, 8.75], [4.49, 8.35], [3.91, 8.29], [4.06, 8.12], [4.13, 8.05],
            [4.35, 8.13],
            [4.73, 8.52], [4.85, 8.02], [4.92, 8.67], [5.06, 8.67], [5.06, 8.04], [5.20, 8.10], [5.20, 8.83], [5.31, 8.98], [5.35, 8.93], [5.42, 8.81], [5.49, 8.22], [5.68, 8.22], [5.71, 8.07], [5.56, 8.51], [5.78, 8.93],
            [5.82, 9.05], [5.90, 9.25], [5.92, 8.53], [5.92, 8.63], [5.96, 8.71], [5.99, 8.44], [6.03, 8.78], [6.06, 8.88], [6.14, 8.98], [6.21, 8.78], [6.18, 8.85], [6.28, 8.93], [6.36, 9.02], [6.43, 9.20], [6.50, 9.13],
            [6.57, 9.02], [6.64, 9.27], [6.68, 8.83], [6.50, 8.83], [6.79, 8.53], [6.86, 9.17], [6.93, 9.11], [7.00, 9.14], [7.04, 8.78], [7.07, 8.58], [7.32, 8.55], [7.36, 8.88], [7.43, 9.32], [7.43, 8.78], [7.50, 9.12],
            [7.76, 8.93], [5.78, 8.31], [5.90, 8.31], [5.92, 8.12], [5.78, 7.77], [5.96, 8.00], [5.99, 7.85], [6.14, 8.19], [6.24, 8.00], [6.28, 8.34], [6.28, 7.73], [6.43, 8.14], [6.47, 8.31], [6.57, 8.04], [6.57, 7.87],
            [6.61, 8.31], [6.64, 8.00], [6.68, 7.77], [6.79, 7.68], [6.90, 7.82], [6.93, 7.70], [7.08, 7.75], [7.15, 7.58], [7.22, 7.95], [7.22, 7.70], [7.36, 7.81], [7.50, 7.80], [7.65, 7.87], [7.97, 8.21], [5.49, 7.48],
            [5.46, 7.42], [5.56, 7.46], [5.63, 7.48], [5.42, 7.24], [5.56, 7.24], [5.66, 7.26], [5.71, 7.19], [5.49, 7.15], [5.60, 7.14], [5.46, 7.10], [5.78, 7.14], [5.90, 7.09], [5.99, 7.24], [5.46, 6.94], [5.42, 6.67],
            [5.46, 6.55], [5.56, 6.63], [5.38, 6.52], [5.71, 6.55], [5.99, 6.68],
            [7.75, 9.25], [7.86, 9.17], [8.01, 9.34], [8.08, 9.22], [8.18, 9.49], [8.23, 9.12], [8.30, 9.07], [8.41, 9.27], [8.51, 9.07], [8.58, 9.02], [8.54, 8.84], [8.58, 9.39], [8.66, 9.71], [8.66, 9.14], [8.66, 8.84],
            [8.76, 9.39], [8.79, 9.56], [8.51, 9.34], [8.58, 9.76], [8.66, 9.93], [8.69, 10.14], [8.79, 10.05], [8.87, 9.91], [8.79, 9.81], [8.91, 9.71], [9.01, 9.91], [9.20, 10.21], [9.27, 9.98], [9.38, 9.99], [9.20, 9.77],
            [9.30, 9.66], [9.27, 9.02], [9.43, 9.17], [9.45, 9.27], [9.23, 8.72], [9.57, 8.92], [9.52, 8.61], [9.59, 10.19], [9.59, 9.88], [9.64, 9.56], [9.70, 9.43], [9.59, 9.50], [9.67, 9.00], [9.67, 8.83], [9.74, 9.34],
            [9.74, 9.71], [9.78, 8.86], [9.87, 9.94], [9.92, 10.37], [9.99, 9.21], [10.02, 8.83], [10.06, 9.49], [10.02, 10.35], [10.09, 9.44], [10.16, 10.13], [10.21, 9.27], [10.24, 9.54], [10.27, 8.72], [10.31, 8.53],
            [10.38, 10.47], [10.38, 9.11], [10.45, 8.98], [10.45, 9.44], [10.45, 9.76], [10.45, 10.19], [10.52, 10.47], [10.49, 10.16], [10.52, 8.59], [10.48, 8.74], [10.52, 8.39], [10.59, 8.34], [10.59, 9.83], [10.59, 9.64],
            [10.64, 9.42], [10.73, 9.27], [10.81, 8.46], [10.88, 9.22], [10.92, 9.74], [10.95, 10.03], [10.95, 10.52], [10.98, 10.47], [11.02, 10.32], [11.09, 10.19], [11.09, 9.78], [11.12, 8.94], [11.16, 9.32], [11.09, 9.07],
            [11.16, 9.00], [11.31, 8.72], [11.31, 9.83], [11.39, 9.57], [11.45, 9.34], [11.50, 9.92], [11.52, 9.81], [11.62, 10.15], [11.66, 10.05], [11.66, 9.12], [11.69, 9.76], [11.74, 10.35], [11.74, 9.52], [11.74, 9.02],
            [11.74, 8.94], [11.78, 10.50], [11.81, 10.23], [11.81, 9.88], [11.84, 9.66], [11.88, 9.54], [11.88, 8.90], [11.91, 9.34], [11.95, 9.86], [12.02, 9.81], [12.10, 9.61], [12.10, 9.05], [12.10, 9.54], [12.17, 9.47],
            [12.20, 9.66], [12.24, 9.37], [12.21, 9.27], [12.28, 9.22], [12.31, 9.28], [12.17, 9.15]
        ]

        const italianPts = [
            [-1.89, 6.01], [-1.82, 5.95], [-1.85, 5.88], [-1.69, 6.15], [-1.64, 6.22], [-1.69, 5.57], [-1.61, 5.48], [-1.61, 5.86], [-1.61, 6.46], [-1.64, 6.83], [-1.55, 6.56], [-1.50, 7.00], [-1.45, 7.17], [-1.40, 7.10],
            [-1.30, 7.29], [-1.36, 5.37], [-1.27, 5.43], [-1.15, 5.47], [-1.08, 5.60], [-1.54, 5.69], [-1.36, 5.79], [-1.32, 5.91], [-1.34, 6.06], [-1.23, 6.53], [-1.27, 6.40], [-1.18, 6.74], [-1.18, 5.99], [-1.06, 5.91],
            [-1.06, 6.18], [-0.96, 6.05], [-0.93, 6.78], [-0.89, 6.39], [-0.80, 5.95], [-0.74, 6.25], [-0.68, 6.05], [-0.62, 6.53], [-0.60, 6.01], [-0.53, 6.12], [-0.51, 6.25], [-0.49, 6.67], [-0.44, 6.80], [-0.44, 6.54],
            [-0.38, 6.72], [-0.25, 6.05], [-0.29, 5.93], [-0.22, 6.44], [-0.22, 6.74], [-0.19, 5.95], [-0.04, 6.01], [-0.01, 7.17], [0.03, 6.97], [0.08, 6.18], [0.09, 6.59], [0.12, 7.21], [0.18, 7.10], [0.20, 7.04],
            [0.24, 7.17], [0.30, 7.04], [0.33, 6.63], [0.36, 7.15], [0.42, 6.40], [0.42, 7.17], [0.49, 6.46], [0.55, 6.35], [0.55, 7.56], [0.65, 7.58], [0.70, 7.67], [0.73, 7.14], [0.73, 7.33], [0.79, 6.61], [0.85, 6.56],
            [0.92, 7.34], [0.98, 6.95], [0.98, 7.04], [1.02, 6.73], [1.10, 7.60], [1.07, 7.45], [1.35, 7.49], [1.41, 8.09], [1.47, 7.99], [1.51, 8.16], [1.53, 7.88], [1.51, 7.06], [1.60, 7.06], [1.62, 7.65], [1.76, 8.06],
            [1.78, 8.40], [1.84, 8.43], [1.84, 8.24], [1.97, 8.62], [1.97, 7.72], [2.09, 8.30], [2.09, 7.58], [2.13, 8.65], [2.17, 8.04], [2.17, 7.92], [2.21, 8.50], [2.24, 8.42], [2.27, 7.67], [2.27, 8.13], [2.31, 7.55],
            [2.34, 8.64], [2.37, 8.28], [2.40, 8.42], [2.40, 7.79], [2.43, 7.89], [2.49, 7.48], [2.52, 7.89], [2.46, 8.90], [2.58, 8.54], [2.65, 8.97], [2.67, 8.71], [2.70, 8.64], [2.70, 8.17], [2.73, 7.55], [2.74, 7.99],
            [2.76, 8.79], [2.82, 8.52], [2.82, 7.96], [2.91, 7.65], [3.07, 8.79], [3.14, 8.84], [3.16, 8.67], [3.16, 8.04], [3.26, 7.94], [3.26, 8.79], [3.40, 9.13], [3.43, 8.67], [3.50, 8.33], [3.53, 8.69], [3.60, 9.30],
            [3.60, 8.98], [3.81, 9.49], [3.97, 9.12], [4.00, 8.90], [4.06, 9.22], [4.22, 8.64], [4.22, 8.24], [4.24, 9.03], [4.27, 9.66], [4.33, 9.76], [4.52, 9.27], [4.55, 8.38], [4.55, 8.81], [4.58, 8.88], [4.67, 10.02],
            [4.80, 9.54], [4.96, 10.15], [4.98, 9.99], [5.01, 9.74], [5.10, 9.27], [5.13, 9.47], [5.16, 10.40], [5.20, 10.49], [5.22, 9.66], [5.25, 9.51], [5.32, 9.52], [5.37, 10.07], [5.41, 10.56], [5.37, 9.59],
            [5.41, 9.99], [5.45, 10.08], [5.47, 10.27], [5.53, 10.34], [5.57, 10.41], [5.62, 10.38], [5.60, 9.61], [5.57, 9.40], [5.62, 10.60], [5.72, 9.32], [5.72, 9.81], [5.78, 10.51], [5.78, 10.08], [5.81, 10.65],
            [5.86, 10.72], [5.90, 10.82], [6.09, 9.66], [6.15, 10.58], [6.21, 10.02], [6.24, 10.91], [6.30, 9.90], [6.36, 10.56], [6.43, 10.02], [6.46, 10.90], [6.49, 10.00], [6.46, 11.13], [6.52, 11.20], [6.54, 9.80],
            [6.58, 11.76], [6.60, 11.69], [6.64, 11.06], [6.68, 9.58], [6.70, 11.95], [6.73, 11.84], [6.73, 10.74], [6.73, 10.24], [6.76, 11.64], [6.80, 11.57], [6.80, 9.92], [6.82, 11.18], [6.88, 11.76], [6.85, 9.80],
            [6.95, 11.88], [6.97, 10.62], [7.01, 10.75], [7.01, 11.16], [7.05, 11.88], [6.95, 9.79], [7.14, 11.78], [7.14, 9.80], [7.17, 10.85], [7.19, 11.24], [7.25, 10.34], [7.25, 9.73], [7.29, 11.02], [7.29, 11.67],
            [7.34, 9.83], [7.44, 10.36], [7.47, 10.74], [7.50, 10.68], [7.57, 9.80], [7.63, 10.33], [7.63, 10.24], [7.69, 9.87], [7.72, 11.54], [7.75, 10.87], [7.84, 10.77], [7.91, 10.74], [7.93, 10.23], [7.96, 10.58],
            [7.99, 10.65], [8.03, 10.45], [8.11, 10.40], [8.15, 10.36], [8.18, 10.92], [8.18, 11.02], [8.28, 11.69], [8.33, 10.70], [8.36, 11.38], [8.45, 11.09], [8.49, 11.40], [8.53, 11.20], [8.56, 10.58], [8.62, 11.52],
            [8.62, 11.20], [8.65, 10.56], [8.67, 10.79], [8.70, 10.28], [8.77, 10.17], [8.83, 10.58], [8.86, 10.51], [8.92, 10.92], [8.90, 11.54], [8.98, 10.34], [8.98, 10.28], [9.02, 10.94], [9.04, 11.22], [9.10, 10.96],
            [9.14, 11.56], [9.19, 10.65], [9.22, 10.43], [9.22, 11.58], [9.26, 11.33], [9.28, 11.22], [9.28, 11.26], [9.31, 10.68], [9.35, 10.55], [9.38, 11.01], [9.53, 10.70], [9.59, 11.42], [9.66, 11.04], [9.72, 11.40],
            [9.78, 11.01], [9.80, 10.26], [9.84, 10.94], [9.88, 10.45], [9.94, 11.08], [9.96, 11.42], [10.08, 11.16], [10.17, 11.49], [10.21, 11.43], [10.25, 11.16], [10.30, 10.94], [10.33, 11.06], [10.37, 10.65],
            [10.42, 11.26], [10.46, 10.55], [10.50, 10.56], [10.54, 10.28], [10.58, 10.69], [10.62, 11.30], [10.64, 10.94], [10.64, 10.47], [10.68, 10.07], [10.70, 11.23], [10.74, 10.85], [10.77, 10.24], [10.79, 10.70],
            [10.82, 11.28], [10.82, 11.17], [10.86, 10.29], [10.91, 10.96], [10.95, 10.58], [11.01, 10.48], [11.03, 10.38], [11.10, 10.56], [11.12, 10.53]
        ]

        const portuguesePts = [
            [-3.50, 7.79], [-3.40, 7.70], [-3.43, 7.58], [-3.39, 7.52], [-3.36, 7.90], [-3.32, 7.83], [-3.29, 7.50], [-3.25, 8.06], [-3.15, 8.08], [-3.12, 7.78], [-3.11, 7.70], [-3.09, 7.50], [-3.01, 7.40], [-2.91, 7.84],
            [-2.79, 7.84], [-2.72, 7.75], [-2.70, 7.71], [-2.65, 7.29], [-2.58, 7.73], [-2.55, 7.65], [-2.54, 8.21], [-2.51, 8.17], [-2.51, 7.15], [-2.47, 7.94], [-2.41, 8.07], [-2.40, 7.15], [-2.38, 7.35], [-2.33, 7.07],
            [-2.30, 7.94], [-2.30, 7.74], [-2.30, 8.62], [-2.27, 8.66], [-2.23, 7.50], [-2.23, 7.67], [-2.20, 8.74], [-2.16, 8.88], [-2.16, 7.86], [-2.16, 7.80], [-2.06, 8.02], [-2.09, 7.15], [-1.99, 8.82], [-1.99, 7.94],
            [-1.99, 7.58], [-1.94, 7.04], [-1.94, 7.45], [-1.90, 7.50], [-1.87, 8.11], [-1.83, 8.89], [-1.83, 7.13], [-1.80, 7.31], [-1.80, 7.99], [-1.76, 7.70], [-1.73, 8.35], [-1.70, 8.40], [-1.69, 8.02], [-1.63, 7.19],
            [-1.59, 8.68], [-1.55, 8.99], [-1.52, 7.25], [-1.49, 8.96], [-1.48, 8.09], [-1.45, 8.29], [-1.40, 7.99], [-1.40, 7.90], [-1.38, 7.29], [-1.38, 8.93], [-1.33, 7.72], [-1.28, 7.60], [-1.28, 8.84], [-1.23, 7.35],
            [-1.19, 8.81], [-1.16, 7.94], [-1.13, 8.92], [-1.12, 8.13], [-1.08, 8.60], [-1.06, 8.37], [-1.06, 7.78], [-1.02, 7.86], [-0.99, 7.33], [-0.95, 8.84], [-0.91, 7.90], [-0.85, 8.17],
            [-0.48, 7.57], [-0.48, 7.46], [-0.50, 7.34], [-0.34, 8.28], [-0.31, 8.23], [-0.21, 8.15], [-0.17, 8.33], [-0.10, 7.88], [-0.03, 8.33], [0.00, 8.23], [0.04, 7.94], [0.04, 7.26], [0.09, 6.77], [0.09, 6.64],
            [0.11, 8.09], [0.11, 6.47], [0.14, 7.17], [0.14, 7.46], [0.17, 6.53], [0.20, 6.64], [0.23, 7.73], [0.26, 6.81], [0.26, 7.41], [0.33, 6.82], [0.35, 8.27], [0.40, 8.23], [0.40, 7.43], [0.47, 7.43], [0.47, 7.00],
            [0.51, 8.13], [0.68, 7.80], [0.75, 8.13], [0.79, 8.01], [0.82, 7.68], [0.99, 7.56], [1.04, 7.90], [1.06, 7.91], [1.15, 8.15], [1.25, 7.49], [1.36, 7.46], [1.36, 8.21], [1.39, 7.94], [1.42, 7.45], [1.46, 8.17],
            [1.46, 7.69], [1.50, 7.30], [1.53, 7.54], [1.60, 7.82], [1.65, 7.47], [1.67, 7.70], [1.70, 8.36], [1.74, 7.37], [1.82, 7.25], [1.84, 7.45], [1.89, 8.36], [1.89, 8.01], [1.89, 7.02], [1.93, 7.32], [1.96, 8.29],
            [1.96, 7.54], [2.03, 7.99], [2.07, 8.25], [2.10, 7.46], [2.10, 8.44], [2.13, 7.35], [2.17, 8.09], [2.21, 8.33], [2.21, 7.19], [2.24, 8.46], [2.27, 8.08], [2.34, 7.46], [2.38, 8.15], [2.43, 8.37], [2.43, 7.83],
            [2.45, 8.09], [2.52, 6.89], [2.55, 8.19], [2.60, 8.03], [2.64, 8.42], [2.67, 8.21], [2.71, 7.54], [2.74, 8.28], [2.77, 7.50], [2.81, 7.46], [2.84, 7.72], [2.84, 7.58], [3.02, 8.23], [3.05, 6.92], [3.06, 7.17],
            [3.09, 7.62], [3.12, 7.60], [3.13, 8.16], [3.16, 7.92], [3.23, 6.90], [3.23, 7.29], [3.26, 7.27], [3.30, 8.09], [3.35, 8.29], [3.38, 8.33], [3.38, 7.46], [3.40, 8.07], [3.45, 7.27], [3.52, 8.23], [3.55, 7.68],
            [3.59, 7.13], [3.59, 7.00], [3.63, 8.27], [3.66, 7.52], [3.69, 8.27], [3.73, 7.90], [3.76, 7.94], [3.80, 7.70], [3.83, 8.05], [3.87, 7.45], [3.89, 7.07], [3.91, 8.05], [3.94, 6.92], [3.94, 7.78], [4.01, 7.90],
            [4.01, 7.11], [4.01, 7.58], [4.09, 7.09], [4.16, 7.07], [4.20, 7.94], [4.26, 6.90], [4.30, 6.80], [4.30, 7.60], [4.37, 7.60], [4.40, 6.78], [4.51, 7.41], [4.58, 7.94], [4.62, 7.57], [4.68, 7.75], [4.72, 6.55],
            [4.79, 6.29], [4.87, 7.27], [4.89, 8.09],
            [4.84, 5.57], [4.98, 5.29], [5.08, 5.18], [5.12, 5.38], [5.15, 5.12], [5.11, 5.08], [5.22, 5.16], [5.29, 5.10], [5.29, 5.18], [5.33, 5.12], [5.40, 5.05], [5.43, 7.94], [5.48, 7.81], [5.50, 5.10], [5.62, 5.18],
            [5.65, 7.33], [5.65, 5.34], [5.67, 5.66], [5.74, 5.14], [5.84, 7.52], [5.84, 5.27], [5.90, 5.30], [5.97, 5.45], [5.97, 6.93], [5.97, 6.78], [6.00, 5.30], [6.07, 7.35], [6.10, 5.23], [6.14, 5.44], [6.18, 6.62],
            [6.24, 8.01], [6.28, 7.90], [6.31, 7.62], [6.33, 7.72], [6.28, 7.13], [6.31, 5.14], [6.33, 5.66], [6.35, 6.62], [6.38, 5.22], [6.40, 7.09], [6.43, 8.01], [6.43, 6.64], [6.47, 7.02], [6.52, 7.13], [6.57, 8.01],
            [6.61, 8.01], [6.64, 7.70], [6.64, 7.39], [6.67, 6.23], [6.68, 7.35], [6.71, 7.97], [6.71, 7.29], [6.71, 6.06], [6.74, 7.86], [6.77, 7.78], [6.77, 6.62], [6.81, 6.37], [6.82, 7.70], [6.85, 7.47], [6.85, 7.13],
            [6.85, 7.05], [6.88, 6.70], [6.89, 6.07], [6.92, 6.49], [6.92, 6.33], [6.95, 7.90], [6.96, 6.60], [6.99, 7.45], [6.99, 6.23], [7.04, 7.09], [7.06, 7.74], [7.09, 7.13], [7.13, 6.66], [7.16, 7.58], [7.21, 7.25],
            [7.23, 7.41], [7.28, 6.47], [7.30, 7.56], [7.35, 7.13], [7.35, 6.76], [7.38, 6.88], [7.42, 7.29], [7.49, 7.02], [7.52, 7.78], [7.53, 6.45], [7.55, 6.57], [7.59, 7.29], [7.63, 7.47], [7.63, 7.65], [7.66, 6.98],
            [7.67, 6.86], [7.70, 7.51], [7.70, 6.64], [7.74, 6.68], [7.80, 7.27], [7.91, 7.11], [7.94, 6.78], [7.99, 6.99], [7.99, 6.67], [8.03, 6.78], [8.13, 7.45], [8.17, 6.43], [8.34, 6.68], [8.34, 6.41], [8.41, 6.25],
            [8.45, 6.88], [8.45, 6.55], [8.51, 6.41], [8.55, 7.19], [8.65, 7.17], [8.65, 5.98], [8.70, 6.19], [8.77, 6.41], [8.81, 6.10], [8.84, 7.15], [8.87, 5.92], [8.88, 6.41], [8.94, 6.37], [8.98, 7.00], [9.02, 6.60],
            [9.05, 6.00], [9.08, 6.23], [9.12, 5.90], [9.16, 6.06], [9.19, 6.23], [9.22, 7.13], [9.26, 6.90], [9.31, 6.55], [9.33, 6.47], [9.36, 6.10], [9.38, 7.32], [9.40, 6.74], [9.45, 7.34], [9.48, 6.53], [9.48, 6.06],
            [9.52, 7.13], [9.55, 7.29], [9.55, 5.92], [9.59, 6.47], [9.62, 6.27], [9.65, 7.02], [9.69, 6.88], [9.73, 6.82], [9.76, 6.29], [9.79, 6.45], [9.83, 5.98], [9.90, 7.00], [9.93, 6.64], [9.97, 5.92], [10.00, 7.00],
            [10.04, 7.13], [10.07, 6.39], [10.11, 6.45], [10.16, 6.78], [10.18, 7.17], [10.23, 6.39], [10.26, 6.88], [10.30, 6.66], [10.33, 6.87], [10.40, 5.98], [10.40, 6.33], [10.45, 6.66], [10.47, 6.10], [10.51, 6.68],
            [10.54, 6.22], [10.55, 6.82], [10.58, 7.15], [10.58, 5.81], [10.61, 6.00], [10.67, 5.92], [10.72, 6.77], [10.75, 5.96], [10.78, 6.49], [10.82, 6.98], [10.82, 6.19], [10.86, 6.10], [10.89, 5.90], [10.94, 6.00],
            [10.96, 6.22], [11.01, 5.92], [11.03, 7.09], [11.06, 6.60], [11.13, 6.70], [11.18, 7.02], [11.18, 6.46], [11.22, 6.08], [11.25, 6.06], [11.25, 6.84], [11.29, 6.29], [11.31, 6.96], [11.35, 6.58], [11.36, 6.55],
            [11.39, 6.12], [11.39, 6.41], [11.43, 6.64], [11.46, 6.98], [11.49, 6.86], [11.50, 6.33], [11.53, 6.41], [11.53, 6.66], [11.53, 6.55]
        ]

        const russianPts = [
            [-2.69, 8.32], [-2.74, 8.25], [-2.57, 8.29], [-2.40, 8.26], [-2.26, 8.36], [-2.17, 8.29], [-2.05, 8.20], [-1.94, 8.18], [-2.11, 8.16], [-1.99, 8.16], [-2.78, 8.05], [-2.64, 8.06], [-2.52, 8.06], [-2.29, 8.02],
            [-2.17, 7.91], [-1.99, 7.93], [-1.87, 7.97], [-1.76, 8.01], [-1.76, 7.90], [-1.59, 8.14], [-1.46, 8.13], [-1.33, 8.13], [-1.21, 7.97], [-1.12, 7.99], [-1.24, 7.95], [-0.95, 7.85], [-1.35, 7.81], [-2.69, 7.79],
            [-2.57, 7.75], [-2.34, 7.75], [-2.20, 7.68], [-1.46, 7.63], [-1.35, 7.64], [-1.21, 7.69], [-1.17, 7.61], [-0.95, 7.76], [-0.78, 7.68], [-1.38, 7.54], [-1.33, 7.51], [-1.07, 7.51], [-0.90, 7.51], [-2.08, 7.49],
            [-0.83, 7.39], [-0.51, 7.33], [-2.74, 7.35], [-2.64, 7.27], [-2.74, 7.21], [-2.29, 7.35], [-2.11, 7.35], [-1.96, 7.28], [-1.70, 7.36], [-2.34, 7.15], [-2.22, 7.17], [-2.22, 7.05], [-2.11, 6.90], [-2.08, 6.87],
            [-1.82, 6.93], [-1.09, 7.05], [-0.86, 6.98], [-0.98, 6.89], [-1.87, 6.65], [-1.76, 6.65], [-1.73, 6.73], [-1.50, 6.70], [-1.73, 6.57], [-1.55, 6.55], [-1.07, 6.57], [-0.51, 6.61], [-0.37, 6.51], [-0.25, 6.53],
            [-0.16, 6.58], [0.01, 6.59], [-0.25, 6.42], [-0.16, 6.33], [-0.25, 6.98], [-0.08, 7.15], [0.10, 7.05], [0.06, 6.74], [0.27, 6.87], [0.39, 7.02], [0.50, 6.97], [0.57, 7.05], [0.68, 6.95], [0.68, 6.83], [0.53, 6.65],
            [0.68, 6.63], [0.81, 6.57], [0.98, 6.68], [0.27, 6.35], [0.27, 6.28], [0.10, 6.21], [0.10, 6.10], [0.57, 6.25], [0.40, 6.15], [0.36, 6.06], [0.32, 6.00], [0.45, 6.03], [0.53, 6.08], [0.71, 6.02], [0.80, 6.06],
            [0.76, 5.95], [0.98, 6.22], [0.92, 5.95], [1.32, 6.47], [1.55, 6.41], [1.46, 6.30], [1.32, 6.09], [1.46, 5.85], [1.58, 6.00], [1.72, 6.08], [1.75, 5.75], [1.84, 5.73], [1.88, 6.08], [1.93, 5.85], [1.99, 6.17],
            [1.97, 5.71], [2.10, 6.25], [2.10, 5.91], [2.10, 5.71], [2.19, 5.95], [2.24, 5.55], [2.36, 6.08], [2.41, 6.21], [2.50, 5.95], [2.54, 6.04], [2.59, 6.15], [2.66, 6.17], [2.71, 5.84], [2.77, 5.74], [2.84, 6.37],
            [2.80, 6.57], [2.89, 6.61], [2.98, 6.59], [3.01, 5.62], [3.11, 5.55], [3.23, 5.76], [3.26, 5.95], [3.32, 5.56], [3.36, 6.06], [3.36, 6.09], [3.29, 6.44], [3.41, 5.69], [3.46, 5.41], [3.49, 5.22], [3.63, 5.22],
            [3.63, 5.15], [3.59, 5.58], [3.68, 5.73], [3.63, 6.25], [3.63, 6.32], [3.68, 6.16], [3.72, 5.25], [3.73, 5.76], [3.76, 5.69], [3.80, 5.65], [3.84, 5.55], [3.76, 6.30], [3.88, 5.08], [3.99, 6.47], [4.05, 5.90],
            [4.16, 6.03],
            [10.26, 6.04], [10.33, 7.42], [10.38, 7.33], [10.43, 6.00], [10.47, 7.47], [10.47, 6.55], [10.50, 6.74], [10.55, 6.03], [10.61, 7.73], [10.64, 6.19], [10.67, 6.69], [10.73, 7.77], [10.73, 7.64], [10.73, 6.02],
            [10.78, 6.90], [10.82, 6.94], [10.82, 7.40], [10.85, 6.46], [10.85, 7.19], [10.90, 6.26], [10.95, 7.36], [10.99, 7.22], [10.99, 7.61], [11.03, 7.58], [11.03, 5.91], [11.08, 7.76], [11.08, 7.21], [11.08, 7.07],
            [11.13, 7.05], [11.13, 6.16], [11.17, 6.42], [11.17, 7.21], [11.20, 7.17], [11.03, 5.73], [11.13, 5.71], [11.17, 5.69], [11.20, 6.26], [11.25, 6.06], [11.25, 6.59], [11.25, 6.78], [11.30, 5.72], [11.34, 6.80],
            [11.38, 7.56], [11.43, 5.77], [11.48, 7.84], [11.55, 6.26], [11.57, 7.17], [11.60, 7.43], [11.60, 6.53], [11.66, 7.74], [11.68, 6.56], [11.72, 7.61], [11.74, 7.29], [11.77, 6.81], [11.82, 7.67], [11.82, 7.21],
            [11.87, 5.92], [11.87, 5.65], [11.87, 5.59], [11.89, 7.69], [11.89, 6.28], [11.95, 6.14], [12.00, 7.27], [12.03, 6.25], [12.07, 7.48], [12.09, 6.94], [12.13, 6.72], [12.13, 6.66], [12.13, 6.26], [12.21, 7.25],
            [12.25, 7.40], [12.25, 6.95], [12.30, 6.11], [12.35, 7.46], [12.39, 5.89], [12.46, 5.78], [12.48, 6.70], [12.53, 6.51], [12.57, 6.09], [12.61, 6.64], [12.65, 6.73], [12.74, 6.47], [12.78, 6.56], [12.82, 5.99],
            [12.87, 6.42], [12.91, 6.70], [12.91, 6.24], [12.95, 6.32], [12.95, 6.10], [13.00, 5.95], [13.08, 6.38], [13.17, 6.45], [13.22, 6.49], [13.26, 6.08], [13.34, 5.47], [13.43, 6.16], [13.52, 6.10], [13.56, 6.05],
            [13.61, 5.01], [13.69, 5.91], [13.69, 5.13], [13.74, 5.08], [13.78, 5.05], [13.81, 5.17], [13.87, 5.93], [13.92, 5.25], [13.92, 5.59], [13.96, 5.91], [13.99, 4.96], [14.04, 4.87], [14.16, 5.59], [14.21, 5.17],
            [14.21, 4.98], [14.27, 5.67], [14.30, 4.88], [14.35, 5.73], [14.39, 5.92], [14.39, 4.96], [14.48, 4.88], [14.51, 4.57], [14.56, 4.96], [14.56, 4.78], [14.62, 5.46], [14.62, 4.86], [14.65, 5.60], [14.65, 5.00],
            [14.69, 4.80], [14.74, 5.37], [14.74, 5.27], [14.79, 4.69], [14.83, 4.71], [14.87, 5.59], [14.87, 5.10], [14.92, 4.62], [14.92, 5.48], [14.97, 5.38], [15.00, 4.82], [15.04, 4.59], [15.09, 5.20], [15.09, 4.80],
            [15.14, 5.15], [15.14, 4.49], [15.17, 5.01], [15.21, 4.49], [15.26, 4.64], [15.31, 4.91], [15.35, 5.23], [15.35, 4.74], [15.39, 4.39], [15.44, 5.27], [15.49, 4.55], [15.52, 4.90], [15.56, 4.90], [15.61, 5.00],
            [15.73, 4.75]
        ]

        const spanishPts = [
            [4.34, 7.15], [4.39, 7.63], [4.40, 7.51], [4.51, 4.50], [4.57, 4.78], [4.57, 8.54], [4.63, 8.18], [4.65, 4.46], [4.66, 4.00], [4.67, 10.51], [4.70, 6.82], [4.70, 5.86], [4.70, 5.30], [4.71, 7.34], [4.71, 3.98],
            [4.72, 10.51], [4.72, 8.09], [4.72, 4.87], [4.73, 10.23], [4.74, 8.71], [4.75, 4.10], [4.75, 4.78], [4.76, 3.90], [4.76, 5.92], [4.76, 8.83], [4.77, 7.70], [4.77, 7.82], [4.78, 10.71], [4.79, 8.54], [4.80, 4.00],
            [4.80, 5.74], [4.80, 9.79], [4.80, 6.14], [4.81, 4.12], [4.81, 5.66], [4.81, 7.06], [4.81, 8.71], [4.82, 8.33], [4.83, 6.16], [4.85, 9.87], [4.86, 7.91], [4.87, 10.23], [4.87, 4.00], [4.88, 9.91], [4.91, 8.75],
            [4.91, 5.23], [4.97, 9.23], [4.97, 7.67], [4.98, 4.00], [4.98, 6.14], [4.99, 9.02], [5.00, 8.30], [5.02, 5.68], [5.03, 4.06], [5.03, 10.07], [5.03, 6.62], [5.04, 8.47], [5.06, 8.35], [5.07, 6.40], [5.08, 7.91],
            [5.08, 3.88], [5.08, 7.63], [5.09, 7.37], [5.09, 6.31], [5.10, 9.19], [5.12, 4.62], [5.17, 5.38], [5.18, 7.55], [5.20, 4.24], [5.23, 3.86], [5.23, 6.34], [5.24, 6.94], [5.25, 6.88], [5.26, 3.82], [5.28, 7.51],
            [5.30, 9.65], [5.32, 9.91], [5.34, 5.11], [5.34, 6.22], [5.35, 7.67], [5.36, 6.98], [5.37, 10.15], [5.37, 6.58], [5.38, 9.95], [5.39, 8.09], [5.39, 8.54], [5.39, 4.06], [5.41, 6.02], [5.42, 9.38], [5.42, 8.27],
            [5.43, 7.55], [5.44, 5.66], [5.46, 8.54], [5.47, 4.54], [5.47, 8.93], [5.47, 9.79], [5.50, 4.10], [5.51, 5.95], [5.51, 3.54], [5.52, 7.85], [5.52, 5.74], [5.53, 5.32], [5.54, 4.58], [5.56, 9.38], [5.56, 5.20],
            [5.57, 8.27], [5.57, 3.50], [5.58, 5.66], [5.59, 4.99], [5.61, 9.50], [5.62, 5.20], [5.62, 5.30], [5.63, 10.25], [5.63, 5.83], [5.64, 3.66], [5.64, 4.38], [5.65, 9.87], [5.65, 8.47], [5.66, 8.81], [5.66, 4.78],
            [5.67, 4.54], [5.68, 5.47], [5.70, 10.11], [5.72, 4.54], [5.73, 6.14], [5.74, 10.01], [5.78, 9.87], [5.78, 5.80], [5.80, 9.14], [5.80, 9.41], [5.81, 10.27], [5.81, 3.62], [5.83, 10.39], [5.86, 5.11], [5.89, 9.65],
            [5.89, 3.30], [5.91, 4.36], [5.94, 10.35], [5.95, 4.30], [5.98, 9.71], [6.00, 4.60], [6.01, 3.82], [6.01, 3.62], [6.01, 3.30], [6.01, 8.95], [6.04, 3.73], [6.05, 10.67], [6.05, 8.98], [6.06, 10.01], [6.06, 10.47],
            [6.08, 4.82], [6.08, 3.28], [6.09, 4.22], [6.10, 3.50], [6.11, 9.87], [6.11, 3.94], [6.14, 3.46], [6.18, 10.87], [6.19, 10.47], [6.20, 3.73], [6.22, 10.35], [6.23, 9.75], [6.25, 10.85], [6.25, 3.16], [6.27, 4.38],
            [6.27, 4.02], [6.28, 11.03], [6.32, 11.15], [6.33, 3.62], [6.37, 9.23], [6.37, 9.79], [6.38, 4.00], [6.39, 3.42], [6.44, 10.97], [6.45, 10.43], [6.48, 3.94], [6.50, 4.26], [6.52, 11.24], [6.53, 3.88], [6.55, 11.31],
            [6.57, 3.73], [6.58, 3.82], [6.58, 4.10], [6.64, 4.18], [6.67, 10.47], [6.88, 11.81], [6.90, 9.91], [7.02, 11.73], [7.12, 10.25], [7.19, 11.81], [7.20, 10.11], [7.28, 11.21], [7.39, 10.31], [7.46, 11.87],
            [7.48, 12.11], [7.51, 12.15], [7.53, 11.81], [7.55, 10.47], [7.55, 10.27], [7.55, 14.16], [7.63, 10.91], [7.67, 14.40], [7.76, 10.63], [7.75, 14.19], [7.78, 10.91], [7.79, 10.39], [7.84, 14.48], [7.85, 12.39],
            [7.89, 11.19], [7.94, 14.36], [7.95, 12.53], [7.96, 12.95], [7.97, 10.85], [7.99, 11.87], [8.06, 13.35], [8.07, 10.75], [8.09, 14.31], [8.10, 12.51], [8.12, 11.24], [8.14, 13.07], [8.15, 11.63], [8.16, 14.64],
            [8.17, 10.61], [8.19, 13.13], [8.20, 13.01], [8.22, 14.46], [8.23, 12.03], [8.24, 12.92], [8.26, 14.43], [8.27, 14.64], [8.29, 14.48], [8.32, 10.88], [8.33, 12.08], [8.34, 10.83], [8.36, 11.72], [8.37, 14.67],
            [8.38, 12.80], [8.38, 11.63], [8.39, 14.60], [8.41, 14.28], [8.46, 13.71], [8.49, 13.86], [8.51, 13.44], [8.52, 13.68], [8.53, 11.03], [8.54, 13.59], [8.57, 11.00], [8.57, 13.71], [8.58, 14.76], [8.58, 13.35],
            [8.60, 12.65], [8.61, 14.40], [8.62, 11.84], [8.68, 11.18], [8.70, 12.83], [8.71, 12.44], [8.72, 11.87], [8.72, 13.07], [8.73, 11.39], [8.75, 13.71], [8.77, 12.95], [8.79, 14.07], [8.80, 12.32], [8.81, 12.47],
            [8.81, 12.83], [8.82, 13.40], [8.85, 14.34], [8.86, 11.27], [8.88, 11.15], [8.89, 14.43], [8.90, 13.56], [8.92, 11.87], [8.92, 14.46], [8.96, 14.04], [8.97, 13.01], [8.99, 13.76], [8.99, 11.63], [9.00, 11.24],
            [9.00, 13.68], [9.01, 12.05], [9.02, 12.35], [9.03, 13.28], [9.07, 11.24], [9.08, 14.40], [9.09, 12.32], [9.13, 13.95], [9.13, 11.45], [9.16, 12.83], [9.17, 12.08], [9.18, 14.16], [9.18, 11.67], [9.19, 13.74],
            [9.20, 11.48], [9.21, 12.65], [9.24, 14.31], [9.27, 11.81], [9.29, 13.92], [9.30, 11.99], [9.32, 13.59], [9.34, 13.92], [9.34, 12.35], [9.34, 12.83], [9.37, 12.41], [9.38, 13.71], [9.39, 11.91], [9.43, 13.16],
            [9.45, 13.07], [9.55, 13.44], [9.59, 13.25], [9.60, 12.59], [9.61, 12.80], [9.64, 12.95], [9.65, 13.19]
        ]

        // build per-subplot settings from the arrays above
        const subplots = [
            { name: 'dutch', pts: dutchPts, xr: dutchXRange, yr: dutchYRange, xt: dutchXTicks, yt: dutchYTicks, xd: 0, yd: 1 },
            { name: 'english', pts: englishPts, xr: englishXRange, yr: englishYRange, xt: englishXTicks, yt: englishYTicks, xd: 0, yd: 0 },
            { name: 'french', pts: frenchPts, xr: frenchXRange, yr: frenchYRange, xt: frenchXTicks, yt: frenchYTicks, xd: 0, yd: 0 },
            { name: 'german', pts: germanPts, xr: germanXRange, yr: germanYRange, xt: germanXTicks, yt: germanYTicks, xd: 0, yd: 0 },
            { name: 'italian', pts: italianPts, xr: italianXRange, yr: italianYRange, xt: italianXTicks, yt: italianYTicks, xd: 0, yd: 0 },
            { name: 'portuguese', pts: portuguesePts, xr: portugueseXRange, yr: portugueseYRange, xt: portugueseXTicks, yt: portugueseYTicks, xd: 0, yd: 1 },
            { name: 'russian', pts: russianPts, xr: russianXRange, yr: russianYRange, xt: russianXTicks, yt: russianYTicks, xd: 1, yd: 1 },
            { name: 'spanish', pts: spanishPts, xr: spanishXRange, yr: spanishYRange, xt: spanishXTicks, yt: spanishYTicks, xd: 0, yd: 0 }
        ]

        // page layout (pixels)
        const firstCenter = 310
        const panelStep = 598.5
        const frameOffset = -216.5
        const frameW = 448.5
        const frameTop = 113.5
        const frameH = 408.5

        const font = '"DejaVu Sans", "Liberation Sans", sans-serif'
        const ink = '#1a1a1a'
        const dotColor = '#1f77b4'

        const fmt = (d) => (v) => {
            let s = Number(v).toFixed(d)
            return s.replace('-', '\u2212')
        }

        let grids = [], xAxes = [], yAxes = [], series = [], texts = []

        panelNames.forEach((name, k) => {
            const cx = firstCenter + panelStep * k
            texts.push({
                type: 'text', x: cx, y: 31, silent: true,
                style: { text: name, fill: ink, font: '18.5px ' + font, align: 'center', verticalAlign: 'middle', textAlign: 'center', textVerticalAlign: 'middle' }
            })
            if (missingPanels.includes(name)) {
                texts.push({
                    type: 'text', x: cx, y: 308, silent: true,
                    style: { text: 'missing', fill: ink, font: '20px ' + font, align: 'center', verticalAlign: 'middle', textAlign: 'center', textVerticalAlign: 'middle' }
                })
                return
            }
            const sp = subplots.find(s => s.name === name)
            const i = grids.length
            const left = cx + frameOffset
            grids.push({
                left: left, top: frameTop, width: frameW, height: frameH,
                show: true, borderColor: '#222', borderWidth: 1, backgroundColor: '#fff'
            })
            texts.push({
                type: 'text', x: left + frameW / 2, y: 99, silent: true,
                style: { text: name + ' - Dual Syn UMAP', fill: ink, font: '16px ' + font, align: 'center', verticalAlign: 'middle', textAlign: 'center', textVerticalAlign: 'middle' }
            })
            xAxes.push({
                type: 'value', gridIndex: i, min: sp.xr[0], max: sp.xr[1],
                axisLine: { show: true, onZero: false, lineStyle: { color: '#222', width: 1 } },
                axisTick: { show: true, length: 4, customValues: sp.xt, lineStyle: { color: '#222' } },
                axisLabel: { show: true, margin: 9, customValues: sp.xt, formatter: fmt(sp.xd), color: ink, fontSize: 11.5, fontFamily: font },
                splitLine: { show: false }
            })
            yAxes.push({
                type: 'value', gridIndex: i, min: sp.yr[0], max: sp.yr[1],
                axisLine: { show: true, onZero: false, lineStyle: { color: '#222', width: 1 } },
                axisTick: { show: true, length: 4, customValues: sp.yt, lineStyle: { color: '#222' } },
                axisLabel: { show: true, margin: 8, customValues: sp.yt, formatter: fmt(sp.yd), color: ink, fontSize: 11.5, fontFamily: font },
                splitLine: { show: false }
            })
            series.push({
                type: 'scatter', name: name, xAxisIndex: i, yAxisIndex: i,
                symbolSize: 5, itemStyle: { color: dotColor, opacity: 1 },
                data: sp.pts
            })
        })

        let mychart = echarts.init(document.getElementById('chart'))
        mychart.setOption({
            animation: false,
            backgroundColor: '#fff',
            grid: grids,
            xAxis: xAxes,
            yAxis: yAxes,
            series: series,
            graphic: texts
        })
    </script>
</body>

</html>
